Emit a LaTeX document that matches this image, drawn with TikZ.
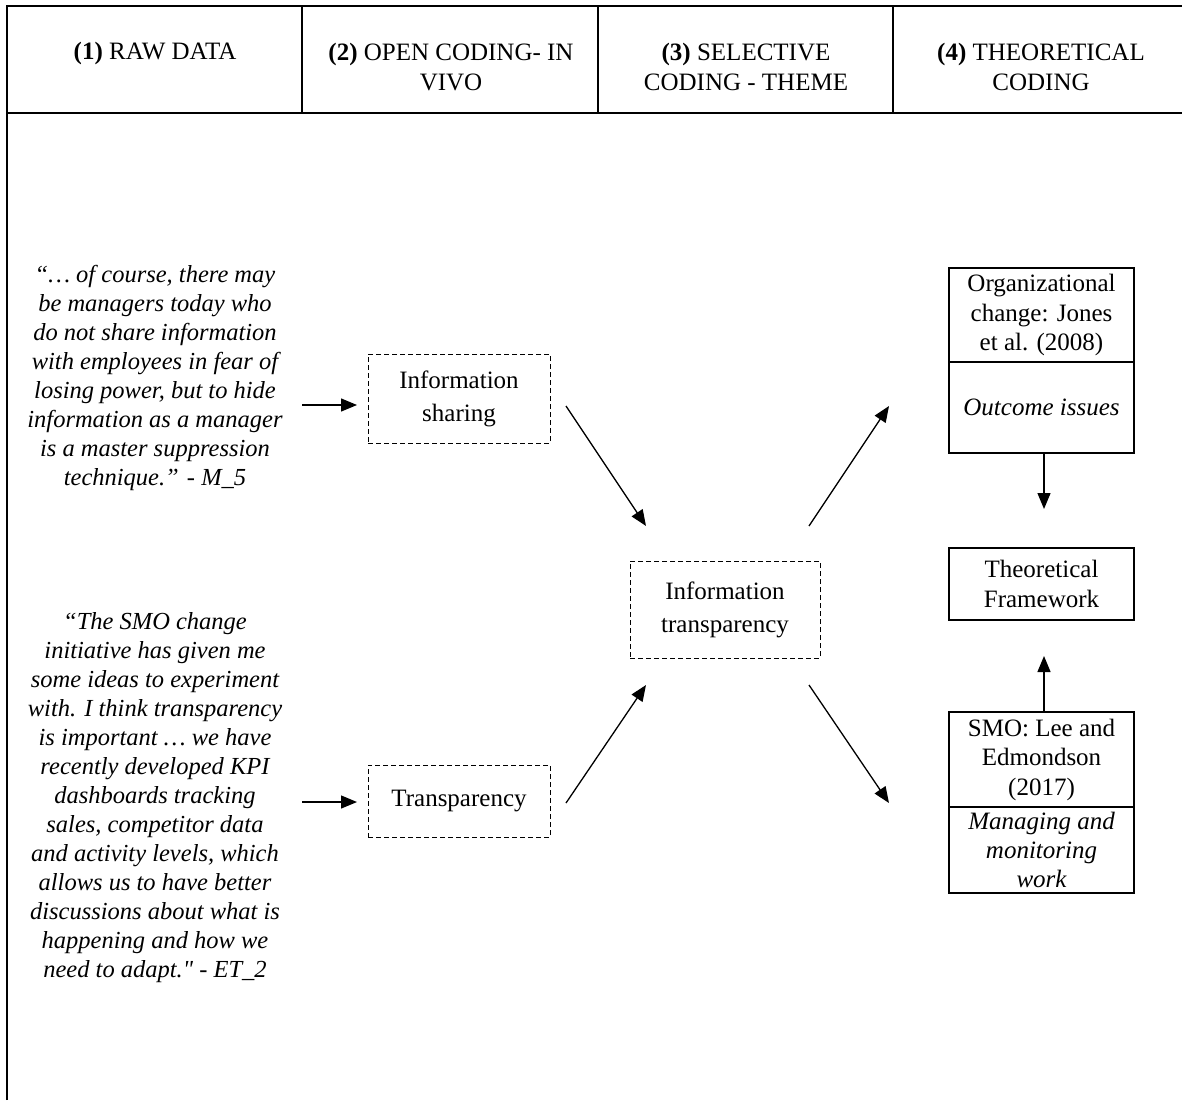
\documentclass[tikz,border=0pt]{standalone}
\usepackage{fontspec}
\setmainfont{Liberation Serif}
\usetikzlibrary{arrows.meta}
\begin{document}
\begin{tikzpicture}[x=1pt,y=-1pt,
  txt/.style={font=\fontsize{25}{30}\selectfont, align=center, inner sep=0pt},
  qtxt/.style={font=\fontsize{24.5}{29}\selectfont\itshape, align=center, inner sep=0pt},
  dbox/.style={draw, line width=1pt, dash pattern=on 5pt off 3pt, font=\fontsize{25}{33}\selectfont, align=center, inner sep=0pt},
  sbox/.style={draw, line width=1.2pt, font=\fontsize{25}{29.5}\selectfont, align=center, inner sep=0pt, minimum width=185pt},
  arr/.style={line width=1.3pt, -{Triangle[length=16pt,width=13pt]}},
  frame/.style={line width=1.5pt}]
\useasboundingbox (0,0) rectangle (1182,1100);
% frame and header
\draw[frame] (7,1100) -- (7,6) -- (1182,6);
\draw[frame] (7,113) -- (1182,113);
\draw[frame] (302,6) -- (302,113);
\draw[frame] (598,6) -- (598,113);
\draw[frame] (893,6) -- (893,113);
\node[txt] (h1) at (155,53) {\textbf{(1)} RAW DATA};
\node[txt] (h2) at (451,67) {\textbf{(2)} OPEN CODING- IN\\VIVO};
\node[txt] (h3) at (746,67) {\textbf{(3)} SELECTIVE\\CODING - THEME};
\node[txt] (h4) at (1041,67) {\textbf{(4)} THEORETICAL\\CODING};
% quotes
\node[qtxt] (q1) at (155,378) {``\dots\ of course, there may\\be managers today who\\do not share information\\with employees in fear of\\losing power, but to hide\\information as a manager\\is a master suppression\\technique.'' - M\_5};
\node[qtxt] (q2) at (155,798) {``The SMO change\\initiative has given me\\some ideas to experiment\\with. I think transparency\\is important \dots\ we have\\recently developed KPI\\dashboards tracking\\sales, competitor data\\and activity levels, which\\allows us to have better\\discussions about what is\\happening and how we\\need to adapt.\textquotedbl\ - ET\_2};
% dashed boxes
\node[dbox, minimum width=182pt, minimum height=89pt] (is) at (459,398.5) {Information\\sharing};
\node[dbox, minimum width=182pt, minimum height=72pt] (tr) at (459,801) {Transparency};
\node[dbox, minimum width=190pt, minimum height=97pt] (it) at (725,609.5) {Information\\transparency};
% right boxes
\node[sbox, minimum height=94pt] (oc) at (1041.5,315) {Organizational\\change: Jones\\et al. (2008)};
\node[sbox, minimum height=91pt, font=\fontsize{25}{29.5}\selectfont\itshape] (oi) at (1041.5,407.5) {Outcome issues};
\node[sbox, minimum height=72pt] (tf) at (1041.5,584) {Theoretical\\Framework};
\node[sbox, minimum height=95pt] (smo) at (1041.5,759.5) {SMO: Lee and\\Edmondson\\(2017)};
\node[sbox, minimum height=86pt, font=\fontsize{25}{29}\selectfont\itshape] (mm) at (1041.5,850) {Managing and\\monitoring\\work};
% arrow coordinates
\coordinate (a1s) at (302,405); \coordinate (a1e) at (357,405);
\coordinate (a2s) at (302,802); \coordinate (a2e) at (357,802);
\coordinate (d1s) at (566,406); \coordinate (d1e) at (646,526);
\coordinate (d2s) at (566,803); \coordinate (d2e) at (646,685);
\coordinate (d3s) at (809,526); \coordinate (d3e) at (889,406);
\coordinate (d4s) at (809,685); \coordinate (d4e) at (889,803);
\coordinate (v1e) at (1044,509);
\coordinate (v2e) at (1044,656);
\draw[arr] (a1s) -- (a1e);
\draw[arr] (a2s) -- (a2e);
\draw[arr] (d1s) -- (d1e);
\draw[arr] (d2s) -- (d2e);
\draw[arr] (d3s) -- (d3e);
\draw[arr] (d4s) -- (d4e);
\draw[arr] (oi.south -| 1044,0) -- (v1e);
\draw[arr] (smo.north -| 1044,0) -- (v2e);
\end{tikzpicture}
\end{document}
